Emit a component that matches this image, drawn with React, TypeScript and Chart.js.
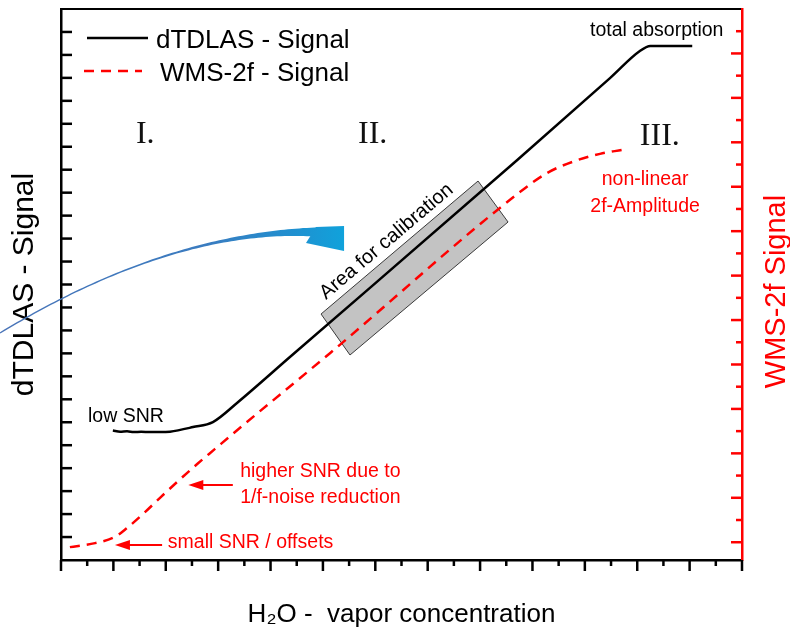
import React, { useEffect, useRef } from 'react';
import { Chart, registerables } from 'chart.js';
Chart.register(...registerables);

// ---- data (x: concentration units, y: signal units) ----
const xBlack = [0.99, 1.13, 1.26, 1.39, 1.53, 1.70, 1.89, 2.08, 2.52, 2.90, 3.36, 4.37, 8.71, 10.48, 11.05, 11.25, 12.05];
const yBlack = [5.64, 5.59, 5.61, 5.57, 5.59, 5.57, 5.57, 5.59, 5.79, 6.01, 6.84, 8.84, 17.42, 20.99, 22.17, 22.39, 22.39];
const xRed = [0.17, 0.65, 1.03, 1.26, 1.57, 1.89, 2.22, 2.60, 2.94, 3.28, 5.14, 8.76, 9.28, 9.81, 10.29, 10.71];
const yRed = [-0.11, -0.02, 0.12, 0.32, 0.64, 1.00, 1.36, 1.76, 2.10, 2.44, 4.26, 7.88, 8.31, 8.58, 8.74, 8.83];

const seriesLabels = ['dTDLAS - Signal', 'WMS-2f - Signal'];
const xTitle = 'H\u2082O -  vapor concentration';
const yTitle = 'dTDLAS - Signal';
const y2Title = 'WMS-2f Signal';

// tick positions
const xMajorTicks = [0, 1, 2, 3, 4, 5, 6, 7, 8, 9, 10, 11, 12, 13];
const xMinorTicks = [0.5, 1.5, 2.5, 3.5, 4.5, 5.5, 6.5, 7.5, 8.5, 9.5, 10.5, 11.5, 12.5];
const yLeftTicks = [1, 2, 3, 4, 5, 6, 7, 8, 9, 10, 11, 12, 13, 14, 15, 16, 17, 18, 19, 20, 21, 22, 23];
const yRightMajorTicks = [0, 1, 2, 3, 4, 5, 6, 7, 8, 9, 10, 11];
const yRightMinorTicks = [0.5, 1.5, 2.5, 3.5, 4.5, 5.5, 6.5, 7.5, 8.5, 9.5, 10.5, 11.5];

// annotations (in data units of x / left y axis)
const regionLabels = [
  { text: 'I.', u: 1.43, v: 18.16 },
  { text: 'II.', u: 5.67, v: 18.16 },
  { text: 'III.', u: 11.05, v: 18.07 },
];
const notes = [
  { text: 'total absorption', u: 10.10, v: 22.82, color: '#000000', align: 'left' },
  { text: 'low SNR', u: 0.515, v: 6.01, color: '#000000', align: 'left' },
  { text: 'non-linear', u: 11.15, v: 16.33, color: '#ff0000', align: 'center' },
  { text: '2f-Amplitude', u: 11.15, v: 15.16, color: '#ff0000', align: 'center' },
  { text: 'higher SNR due to', u: 3.42, v: 3.62, color: '#ff0000', align: 'left' },
  { text: '1/f-noise reduction', u: 3.42, v: 2.48, color: '#ff0000', align: 'left' },
  { text: 'small SNR / offsets', u: 2.04, v: 0.52, color: '#ff0000', align: 'left' },
];
const redArrows = [
  { u1: 3.28, u2: 2.43, v: 3.27 },
  { u1: 1.93, u2: 1.03, v: 0.65 },
];
const calibBox = [[4.964, 10.714], [7.961, 16.507], [8.534, 14.721], [5.517, 8.929]];
const calibLabel = 'Area for calibration';
const blueStart = [-1.165, 9.887];
const blueCtrl = [2.081, 14.373];
const blueEnd = [4.906, 14.286];
const blueHead = [[4.868, 14.503], [5.403, 14.547], [5.403, 13.458], [4.677, 13.807]];

const FONT = '"Liberation Sans", Arial, Helvetica, sans-serif';
const SERIF = '"Liberation Serif", "Times New Roman", serif';

export default function App() {
  const ref = useRef<HTMLCanvasElement>(null);

  useEffect(() => {
    const canvas = ref.current;
    if (!canvas) return;

    const annotate = {
      id: 'annotate',
      beforeDatasetsDraw(chart: any) {
        const ctx = chart.ctx;
        const xs = chart.scales.x;
        const ys = chart.scales.y;
        ctx.save();
        ctx.beginPath();
        calibBox.forEach((p, i) => {
          const x = xs.getPixelForValue(p[0]);
          const y = ys.getPixelForValue(p[1]);
          if (i) ctx.lineTo(x, y); else ctx.moveTo(x, y);
        });
        ctx.closePath();
        ctx.fillStyle = '#c3c3c3';
        ctx.fill();
        ctx.strokeStyle = '#3a3a3a';
        ctx.lineWidth = 1;
        ctx.stroke();
        ctx.restore();
      },
      afterDatasetsDraw(chart: any) {
        const ctx = chart.ctx;
        const ca = chart.chartArea;
        const xs = chart.scales.x;
        const ys = chart.scales.y;
        const y2 = chart.scales.y2;
        const P = (u: number, v: number) => [xs.getPixelForValue(u), ys.getPixelForValue(v)];
        const line = (x1: number, yA: number, x2: number, yB: number) => {
          ctx.beginPath(); ctx.moveTo(x1, yA); ctx.lineTo(x2, yB); ctx.stroke();
        };
        ctx.save();
        ctx.lineCap = 'butt';
        // ticks
        ctx.lineWidth = 2.5;
        ctx.strokeStyle = '#000000';
        yLeftTicks.forEach(v => { const y = ys.getPixelForValue(v); line(ca.left, y, ca.left + 11, y); });
        xMajorTicks.forEach(u => { const x = xs.getPixelForValue(u); line(x, ca.bottom, x, ca.bottom + 11); });
        xMinorTicks.forEach(u => { const x = xs.getPixelForValue(u); line(x, ca.bottom, x, ca.bottom + 6); });
        ctx.strokeStyle = '#ff0000';
        yRightMajorTicks.forEach(v => { const y = y2.getPixelForValue(v); line(ca.right - 11, y, ca.right, y); });
        yRightMinorTicks.forEach(v => { const y = y2.getPixelForValue(v); line(ca.right - 6, y, ca.right, y); });

        // calibration label
        const A = P(calibBox[0][0], calibBox[0][1]);
        const B = P(calibBox[1][0], calibBox[1][1]);
        const len = Math.hypot(B[0] - A[0], B[1] - A[1]);
        const ux = (B[0] - A[0]) / len, uy = (B[1] - A[1]) / len;
        const nx = uy, ny = -ux;
        const mx = (A[0] + B[0]) / 2 - 6 * ux + 13 * nx;
        const my = (A[1] + B[1]) / 2 - 6 * uy + 13 * ny;
        ctx.save();
        ctx.translate(mx, my);
        ctx.rotate(Math.atan2(uy, ux));
        ctx.fillStyle = '#000000';
        ctx.font = `20px ${FONT}`;
        ctx.textAlign = 'center';
        ctx.textBaseline = 'middle';
        ctx.fillText(calibLabel, 0, 0);
        ctx.restore();

        // region labels
        ctx.fillStyle = '#111111';
        ctx.font = `32px ${SERIF}`;
        ctx.textAlign = 'left';
        ctx.textBaseline = 'alphabetic';
        regionLabels.forEach(r => { const [x, y] = P(r.u, r.v); ctx.fillText(r.text, x, y); });

        // notes
        ctx.font = `19.5px ${FONT}`;
        notes.forEach(n => {
          const [x, y] = P(n.u, n.v);
          ctx.fillStyle = n.color;
          ctx.textAlign = n.align as CanvasTextAlign;
          ctx.fillText(n.text, x, y);
        });

        // red arrows
        ctx.strokeStyle = '#ff0000';
        ctx.fillStyle = '#ff0000';
        ctx.lineWidth = 2;
        redArrows.forEach(a => {
          const [x1, y] = P(a.u1, a.v);
          const [x2] = P(a.u2, a.v);
          line(x1, y, x2 + 10, y);
          ctx.beginPath();
          ctx.moveTo(x2, y);
          ctx.lineTo(x2 + 15, y - 5);
          ctx.lineTo(x2 + 15, y + 5);
          ctx.closePath();
          ctx.fill();
        });

        // blue curved arrow
        const s = P(blueStart[0], blueStart[1]);
        const c = P(blueCtrl[0], blueCtrl[1]);
        const e = P(blueEnd[0], blueEnd[1]);
        const head = blueHead.map(p => P(p[0], p[1]));
        const top: number[][] = [];
        const bot: number[][] = [];
        const N = 80;
        for (let i = 0; i <= N; i++) {
          const t = i / N;
          const px = (1 - t) * (1 - t) * s[0] + 2 * (1 - t) * t * c[0] + t * t * e[0];
          const py = (1 - t) * (1 - t) * s[1] + 2 * (1 - t) * t * c[1] + t * t * e[1];
          const dx = 2 * (1 - t) * (c[0] - s[0]) + 2 * t * (e[0] - c[0]);
          const dy = 2 * (1 - t) * (c[1] - s[1]) + 2 * t * (e[1] - c[1]);
          const dl = Math.hypot(dx, dy);
          const qx = -dy / dl, qy = dx / dl;
          const w = 1.4 + 8 * Math.pow(t, 4);
          top.push([px - qx * w / 2, py - qy * w / 2]);
          bot.push([px + qx * w / 2, py + qy * w / 2]);
        }
        const grad = ctx.createLinearGradient(s[0], 0, head[1][0], 0);
        grad.addColorStop(0, '#4a74b8');
        grad.addColorStop(0.6, '#3a7cc0');
        grad.addColorStop(0.85, '#2090d0');
        grad.addColorStop(1, '#10a2db');
        ctx.fillStyle = grad;
        ctx.beginPath();
        top.forEach((p, i) => (i ? ctx.lineTo(p[0], p[1]) : ctx.moveTo(p[0], p[1])));
        for (let i = bot.length - 1; i >= 0; i--) ctx.lineTo(bot[i][0], bot[i][1]);
        ctx.closePath();
        ctx.fill();
        ctx.beginPath();
        head.forEach((p, i) => (i ? ctx.lineTo(p[0], p[1]) : ctx.moveTo(p[0], p[1])));
        ctx.closePath();
        ctx.fill();

        // legend
        const ds = chart.data.datasets;
        const rows = [
          { y: ca.top + 29, x1: ca.left + 26, x2: ca.left + 87, tx: ca.left + 95, ty: ca.top + 39 },
          { y: ca.top + 62, x1: ca.left + 23, x2: ca.left + 81, tx: ca.left + 99, ty: ca.top + 72 },
        ];
        rows.forEach((r, i) => {
          const d = ds[i];
          ctx.strokeStyle = d.borderColor;
          ctx.lineWidth = 2.5;
          ctx.setLineDash(d.borderDash || []);
          line(r.x1, r.y, r.x2, r.y);
          ctx.setLineDash([]);
          ctx.fillStyle = '#000000';
          ctx.font = `26px ${FONT}`;
          ctx.textAlign = 'left';
          ctx.textBaseline = 'alphabetic';
          ctx.fillText(d.label, r.tx, r.ty);
        });

        // right axis title (reads bottom to top)
        ctx.save();
        ctx.translate(ca.right + 35, (ca.top + ca.bottom) / 2 + 7);
        ctx.rotate(-Math.PI / 2);
        ctx.fillStyle = '#ff0000';
        ctx.font = `29px ${FONT}`;
        ctx.textAlign = 'center';
        ctx.textBaseline = 'middle';
        ctx.fillText(y2Title, 0, 0);
        ctx.restore();

        ctx.restore();
      },
    };

    const chart = new Chart(canvas, {
      type: 'line',
      data: {
        datasets: [
          {
            label: seriesLabels[0],
            data: xBlack.map((x, i) => ({ x, y: yBlack[i] })),
            borderColor: '#000000',
            borderWidth: 2.5,
            pointRadius: 0,
            fill: false,
            cubicInterpolationMode: 'monotone',
            yAxisID: 'y',
          },
          {
            label: seriesLabels[1],
            data: xRed.map((x, i) => ({ x, y: yRed[i] })),
            borderColor: '#ff0000',
            borderWidth: 2.5,
            borderDash: [10, 7],
            pointRadius: 0,
            fill: false,
            cubicInterpolationMode: 'monotone',
            yAxisID: 'y2',
          },
        ],
      },
      options: {
        responsive: false,
        animation: false,
        devicePixelRatio: 1,
        layout: { padding: { left: 0, right: 48, top: 9, bottom: 0 } },
        plugins: { legend: { display: false }, tooltip: { enabled: false } },
        scales: {
          x: {
            type: 'linear',
            position: 'bottom',
            min: 0,
            max: 13,
            grid: { display: false, drawTicks: false },
            ticks: { display: false },
            border: { display: true, color: '#000000', width: 2.5 },
            title: {
              display: true,
              text: xTitle,
              color: '#000000',
              font: { family: FONT, size: 26 },
              padding: { top: 0, bottom: 9 },
            },
            afterFit: (s: any) => { s.height = 79; },
          },
          xTop: {
            type: 'linear',
            position: 'top',
            min: 0,
            max: 13,
            grid: { display: false, drawTicks: false },
            ticks: { display: false },
            border: { display: true, color: '#000000', width: 2 },
            afterFit: (s: any) => { s.height = 0; },
          },
          y: {
            type: 'linear',
            position: 'left',
            min: 0,
            max: 24,
            grid: { display: false, drawTicks: false },
            ticks: { display: false },
            border: { display: true, color: '#000000', width: 2.5 },
            title: {
              display: true,
              text: yTitle,
              color: '#000000',
              font: { family: FONT, size: 30 },
              padding: { top: 7, bottom: 0 },
            },
            afterFit: (s: any) => { s.width = 61; },
          },
          y2: {
            type: 'linear',
            position: 'right',
            min: -0.4,
            max: 12,
            grid: { display: false, drawTicks: false },
            ticks: { display: false },
            border: { display: true, color: '#ff0000', width: 2.5 },
            afterFit: (s: any) => { s.width = 0; },
          },
        },
      },
      plugins: [annotate],
    } as any);

    return () => chart.destroy();
  }, []);

  return (
    <div style={{ position: 'fixed', left: 0, top: 0, width: 790, height: 639, background: '#ffffff' }}>
      <canvas ref={ref} width={790} height={639} style={{ display: 'block', width: 790, height: 639 }} />
    </div>
  );
}
